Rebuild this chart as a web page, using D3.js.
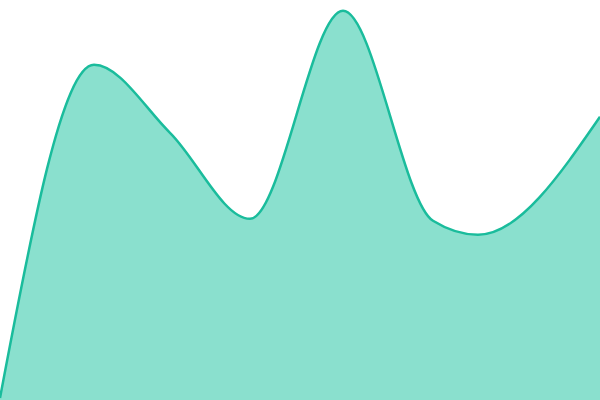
<!DOCTYPE html>
<html>
<head>
<meta charset="utf-8">
<script src="https://cdn.jsdelivr.net/npm/d3@7"></script>
<style>
  body { margin: 0; background: #fff; }
  svg { display: block; }
</style>
</head>
<body>
<div id="chart"></div>
<script>
// data (x positions are not evenly spaced)
var steps = [0, 94, 170, 250, 343, 433, 478, 600];
var values = [0.5, 83.8, 66.8, 45.3, 97.3, 44.8, 41.3, 70.8];

var width = 600,
    height = 400;

var x = d3.scaleLinear().domain(d3.extent(steps)).range([0, width]);
var y = d3.scaleLinear().domain([0, 100]).range([height, 0]);

var data = steps.map(function(s, i) {
    return { step: s, value: values[i] };
});

// define the area
var area = d3
    .area()
    .curve(d3.curveMonotoneX)
    .x(function(d) { return x(d.step); })
    .y0(height)
    .y1(function(d) { return y(d.value); });

// define the line
var valueline = d3
    .line()
    .curve(d3.curveMonotoneX)
    .x(function(d) { return x(d.step); })
    .y(function(d) { return y(d.value); });

var svg = d3
    .select("#chart")
    .append("svg")
    .attr("width", width)
    .attr("height", height);

svg.append("path")
    .datum(data)
    .attr("fill", "#8ae0ce")
    .attr("d", area);

svg.append("path")
    .datum(data)
    .attr("fill", "none")
    .attr("stroke", "#1abc9c")
    .attr("stroke-width", 2.5)
    .attr("d", valueline);
</script>
</body>
</html>
